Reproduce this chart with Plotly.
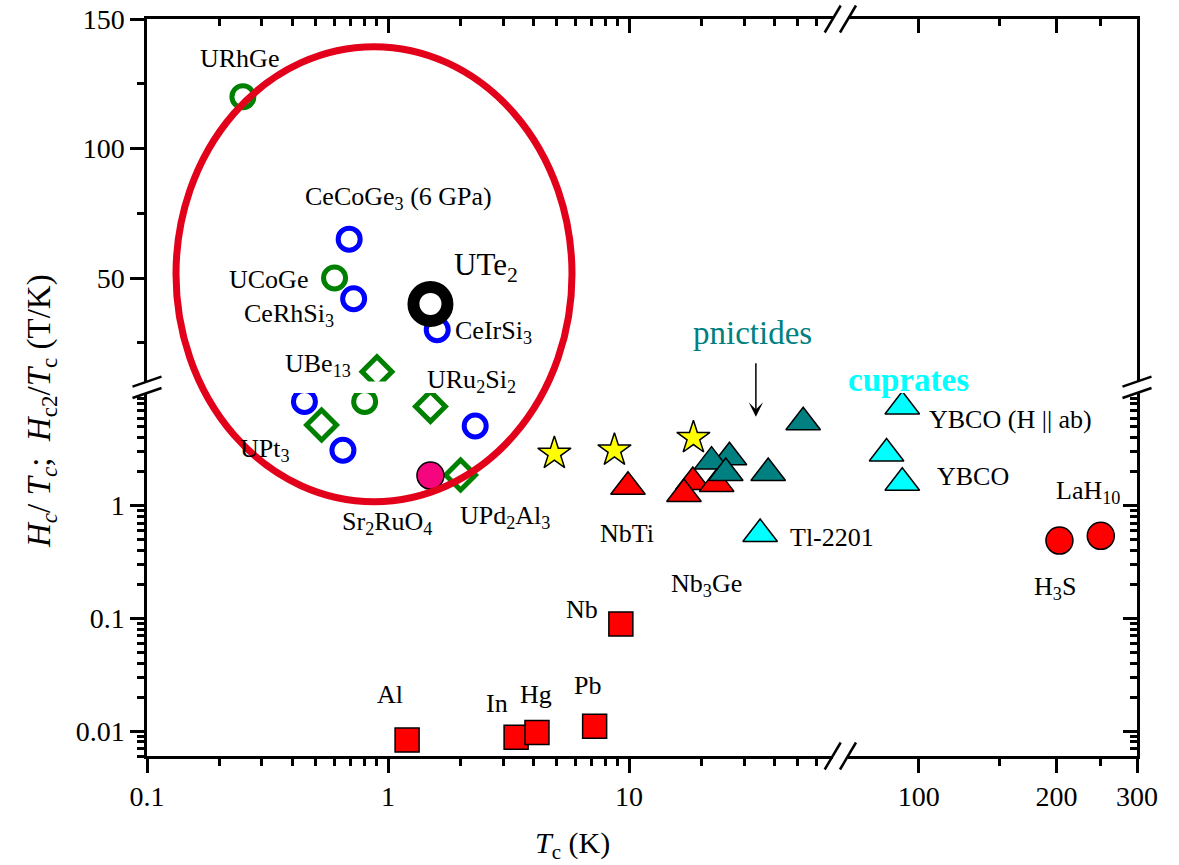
import numpy as np
import plotly.graph_objects as go

FONT = "Liberation Serif"

# ---------------- data: Tc (K) and H/Tc or Hc2/Tc (T/K) ----------------
blue_tc = [0.69, 0.72, 1.6, 0.45, 0.65, 2.3]
blue_r = [65, 42, 30, 8.4, 3.1, 5.1]

green_tc = [0.25, 0.6, 0.80]
green_r = [120, 50, 8.4]

diamond_tc = [0.9, 1.5, 0.53, 2.0]
diamond_r = [13.8, 7.6, 5.2, 1.87]

ute2_tc = [1.5]
ute2_r = [40]

sr2ruo4_tc = [1.5]
sr2ruo4_r = [1.85]

star_tc = [4.9, 8.7, 18.5]
star_r = [2.9, 3.1, 4.0]

element_tc = [1.2, 3.4, 4.15, 7.2, 9.25]          # Al, In, Hg, Pb, Nb
element_r = [0.0083, 0.0088, 0.0097, 0.011, 0.089]

a15_tc = [9.9, 18.4, 23.1, 16.9]                  # NbTi, Nb3Ge, ...
a15_r = [1.47, 1.62, 1.56, 1.27]

pnictide_tc = [26.1, 22, 25.2, 37.8, 52.8]
pnictide_r = [2.69, 2.46, 1.95, 1.95, 5.5]

cuprate_tc = [35, 92, 85, 92]                     # Tl-2201, YBCO (H||ab), YBCO, YBCO
cuprate_r = [0.56, 7.6, 2.9, 1.6]

hydride_tc = [203, 250]                           # H3S, LaH10
hydride_r = [0.49, 0.54]

# axis breaks
X_BREAK = 70
Y_BREAK = 10

# ---------------- layout geometry ----------------
W, H = 1179, 865
ML, MR, MT, MB = 147, 42, 19, 109
PW, PH = W - ML - MR, H - MT - MB
DX1 = (832.7 - ML) / PW      # end of left x segment
DX2 = (848.0 - ML) / PW      # start of right x segment
DY1 = (756.0 - 393.0) / PH   # top of lower y segment
DY2 = (756.0 - 381.6) / PH   # bottom of upper y segment

fig = go.Figure()


def add_series(tc, r, marker):
    tc = np.asarray(tc, float)
    r = np.asarray(r, float)
    for xa, xm in (("x", tc <= X_BREAK), ("x2", tc > X_BREAK)):
        for ya, ym in (("y", r < Y_BREAK), ("y2", r >= Y_BREAK)):
            m = xm & ym
            if m.any():
                fig.add_trace(go.Scatter(
                    x=tc[m], y=r[m], mode="markers", marker=marker,
                    xaxis=xa, yaxis=ya, showlegend=False, hoverinfo="x+y"))


def open_marker(symbol, color, size, width):
    return dict(symbol=symbol, size=size, color=color,
                line=dict(color=color, width=width))


def filled_marker(symbol, color, size):
    return dict(symbol=symbol, size=size, color=color,
                line=dict(color="black", width=1.5))


add_series(blue_tc, blue_r, open_marker("circle-open", "#0000FF", 22, 5))
add_series(green_tc, green_r, open_marker("circle-open", "#008000", 22, 5))
add_series(diamond_tc, diamond_r, open_marker("diamond-open", "#008000", 23, 5))
add_series(ute2_tc, ute2_r, open_marker("circle-open", "black", 34, 12))
add_series(sr2ruo4_tc, sr2ruo4_r, filled_marker("circle", "#F5067F", 27))
add_series(star_tc, star_r, filled_marker("star", "#FFFF00", 25))
add_series(element_tc, element_r, filled_marker("square", "#FF0000", 24))
add_series(a15_tc, a15_r, filled_marker("triangle-up", "#FF0000", 30))
add_series(pnictide_tc, pnictide_r, filled_marker("triangle-up", "#008080", 30))
add_series(cuprate_tc, cuprate_r, filled_marker("triangle-up", "#00FFFF", 30))
add_series(hydride_tc, hydride_r, filled_marker("circle", "#FF0000", 27))

# placeholders so the mirrored (inside-tick) axes are drawn
for xa, ya in (("x3", "y2"), ("x4", "y2"), ("x2", "y3"), ("x2", "y4")):
    fig.add_trace(go.Scatter(x=[], y=[], xaxis=xa, yaxis=ya,
                             showlegend=False, hoverinfo="skip"))

# ---------------- axes ----------------
tick_font = dict(family=FONT, size=28, color="black")
x_left_major = [0.1, 1, 10]
x_left_minor = [d * 10.0 ** e for e in (-1, 0, 1) for d in range(2, 10) if d * 10.0 ** e < 65]
x_right_major = [100, 200, 300]
x_right_minor = [150, 250]
y_low_major = [0.01, 0.1, 1]
y_low_minor = [d * 10.0 ** e for e in (-3, -2, -1, 0) for d in range(2, 10) if d * 10.0 ** e >= 0.006]
y_high_major = [50, 100, 150]
y_high_minor = [25, 75, 125]


def axis(domain, kind, rng, major, minor, ticks, labels, **kw):
    a = dict(domain=domain, type=kind, range=rng, showline=True, linecolor="black",
             linewidth=2.5, showgrid=False, zeroline=False, automargin=False,
             tickmode="array", tickvals=major,
             ticktext=[f"{v:g}" for v in major],
             ticks=ticks, ticklen=14, tickwidth=2.5, tickcolor="black",
             showticklabels=labels, tickfont=tick_font,
             minor=dict(tickmode="array", tickvals=minor, ticks=ticks, ticklen=7,
                        tickwidth=2.5, tickcolor="black", showgrid=False))
    a.update(kw)
    return a


xl_rng = [np.log10(0.1), np.log10(X_BREAK)]
xr_rng = [np.log10(X_BREAK), np.log10(300) + 1e-6]
yl_rng = [np.log10(0.006), np.log10(Y_BREAK)]
yh_rng = [Y_BREAK, 150 + 1e-6]

fig.update_layout(
    xaxis=axis([0, DX1], "log", xl_rng, x_left_major, x_left_minor, "outside", True, anchor="y"),
    xaxis2=axis([DX2, 1], "log", xr_rng, x_right_major, x_right_minor, "outside", True, anchor="y"),
    yaxis=axis([0, DY1], "log", yl_rng, y_low_major, y_low_minor, "outside", True, anchor="x"),
    yaxis2=axis([DY2, 1], "linear", yh_rng, y_high_major, y_high_minor, "outside", True, anchor="x"),
    xaxis3=axis([0, DX1], "log", xl_rng, x_left_major, x_left_minor, "inside", False,
                anchor="y2", overlaying="x", side="top"),
    xaxis4=axis([DX2, 1], "log", xr_rng, x_right_major, x_right_minor, "inside", False,
                anchor="y2", overlaying="x2", side="top"),
    yaxis3=axis([0, DY1], "log", yl_rng, y_low_major, y_low_minor, "inside", False,
                anchor="x2", overlaying="y", side="right"),
    yaxis4=axis([DY2, 1], "linear", yh_rng, y_high_major, y_high_minor, "inside", False,
                anchor="x2", overlaying="y2", side="right"),
)

# ---------------- text labels ----------------
label_text = ["URhGe", "CeCoGe<sub>3</sub> (6 GPa)", "UCoGe", "CeRhSi<sub>3</sub>",
              "UTe<sub>2</sub>", "CeIrSi<sub>3</sub>", "UBe<sub>13</sub>",
              "URu<sub>2</sub>Si<sub>2</sub>", "UPt<sub>3</sub>", "Sr<sub>2</sub>RuO<sub>4</sub>",
              "UPd<sub>2</sub>Al<sub>3</sub>", "NbTi", "Nb<sub>3</sub>Ge", "Nb",
              "Al", "In", "Hg", "Pb", "Tl-2201",
              "YBCO (H || ab)", "YBCO", "LaH<sub>10</sub>", "H<sub>3</sub>S"]
label_x = [0.241, 1.11, 0.474, 0.388, 1.84, 1.86, 0.513, 2.22, 0.309, 0.988, 3.06,
           9.78, 21, 6.37, 1.02, 2.83, 4.11, 6.71, 45.7, 104.4, 108.6, 234.6, 198.6]
label_y = [134.7, 80.9, 49.5, 35.7, 54.4, 29.2, 16.4, 10.05, 3.12, 0.698, 0.799,
           0.569, 0.198, 0.119, 0.0209, 0.0174, 0.0213, 0.0253, 0.517, 5.76, 1.83, 1.33, 0.185]
label_ax = ["x", "x", "x", "x", "x", "x", "x", "x", "x", "x", "x",
            "x", "x", "x", "x", "x", "x", "x", "x", "x2", "x2", "x2", "x2"]
label_ay = ["y2", "y2", "y2", "y2", "y2", "y2", "y2", "y2", "y", "y", "y",
            "y", "y", "y", "y", "y", "y", "y", "y", "y", "y", "y", "y"]
label_anchor = ["center", "center", "right", "center", "left", "left", "center", "center",
                "center", "center", "center", "center", "center", "center", "center",
                "center", "center", "center", "left", "left", "left", "center", "center"]

annotations = []
for t, x, y, xr, yr, xa in zip(label_text, label_x, label_y, label_ax, label_ay, label_anchor):
    annotations.append(dict(
        text=t, x=np.log10(x), y=np.log10(y) if yr == "y" else y,
        xref=xr, yref=yr, xanchor=xa, yanchor="middle", showarrow=False,
        font=dict(family=FONT, size=31 if t.startswith("UTe") else 26, color="black")))

annotations += [
    dict(text="pnictides", x=np.log10(32.4), y=28.7, xref="x", yref="y2",
         xanchor="center", yanchor="middle", showarrow=False,
         font=dict(family=FONT, size=33, color="#008080")),
    dict(text="<b>cuprates</b>", x=np.log10(94.8), y=10.6, xref="x2", yref="y2",
         xanchor="center", yanchor="middle", showarrow=False,
         font=dict(family=FONT, size=33, color="#00FFFF")),
    dict(text="", x=np.log10(33.6), y=np.log10(6.16), xref="x", yref="y",
         showarrow=True, ax=0, ay=-55, arrowhead=3, arrowsize=1.6, arrowwidth=1.5,
         arrowcolor="black", standoff=0),
    dict(text="<i>T</i><sub>c</sub> (K)", x=(572 - ML) / PW, y=(756 - 845) / PH,
         xref="paper", yref="paper", xanchor="center", yanchor="middle", showarrow=False,
         font=dict(family=FONT, size=30, color="black")),
    dict(text="<i>H<sub>c</sub></i>/ <i>T<sub>c</sub></i>;  <i>H</i><sub>c2</sub>/<i>T</i><sub>c</sub> (T/K)",
         x=(41 - ML) / PW, y=(756 - 411) / PH, xref="paper", yref="paper",
         xanchor="center", yanchor="middle", textangle=-90, showarrow=False,
         font=dict(family=FONT, size=33, color="black")),
]

# ---------------- highlight ellipse and axis-break marks ----------------
shapes = [dict(type="circle", xref="paper", yref="paper",
               x0=(176 - ML) / PW, x1=(572 - ML) / PW,
               y0=(756 - 501.7) / PH, y1=(756 - 46.7) / PH,
               line=dict(color="#E2001A", width=7), layer="above")]

brk = dict(type="line", xref="paper", yref="paper", xsizemode="pixel", ysizemode="pixel",
           line=dict(color="black", width=2.5), layer="above")
for xp in (DX1, DX2):
    for yp in (0, 1):
        shapes.append(dict(brk, xanchor=xp, yanchor=yp, x0=-8, x1=8, y0=-13.5, y1=13.5))
for yp in (DY1, DY2):
    for xp in (0, 1):
        shapes.append(dict(brk, xanchor=xp, yanchor=yp, x0=-14.5, x1=14.5, y0=-5, y1=5))

fig.update_layout(
    width=W, height=H, autosize=False,
    margin=dict(l=ML, r=MR, t=MT, b=MB, autoexpand=False),
    paper_bgcolor="white", plot_bgcolor="white",
    annotations=annotations, shapes=shapes,
    font=dict(family=FONT, color="black"),
)

fig.write_html("out.html")
